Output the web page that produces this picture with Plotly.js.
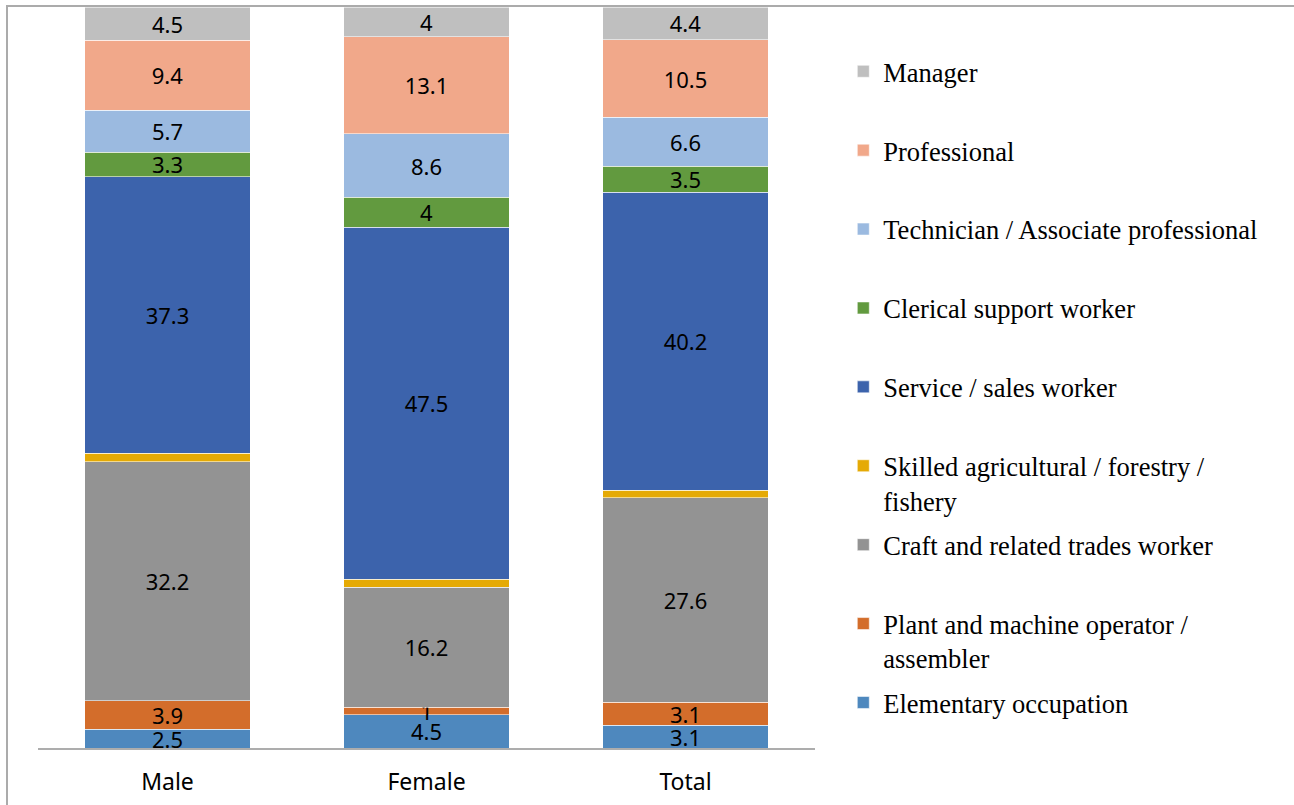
<!DOCTYPE html>
<html>
<head>
<meta charset="utf-8">
<script src="https://cdn.plot.ly/plotly-3.0.1.min.js"></script>
<style>
  html, body { margin: 0; padding: 0; background: #ffffff; }
  #chart { width: 1294px; height: 805px; }
</style>
</head>
<body>
<div id="chart"></div>
<script>
const categories = ['Male', 'Female', 'Total'];

const elementary   = [2.5, 4.5, 3.1];
const plant        = [3.9, 1.0, 3.1];
const craft        = [32.2, 16.2, 27.6];
const skilled      = [1.2, 1.1, 1.0];
const service      = [37.3, 47.5, 40.2];
const clerical     = [3.3, 4.0, 3.5];
const technician   = [5.7, 8.6, 6.6];
const professional = [9.4, 13.1, 10.5];
const manager      = [4.5, 4.0, 4.4];

const seriesNames = [
  'Elementary occupation',
  'Plant and machine operator /<br>assembler',
  'Craft and related trades worker',
  'Skilled agricultural / forestry /<br>fishery',
  'Service / sales worker',
  'Clerical support worker',
  'Technician / Associate professional',
  'Professional',
  'Manager'
];
const seriesValues = [elementary, plant, craft, skilled, service, clerical, technician, professional, manager];
const seriesColors = ['#4E88BE', '#D36D2B', '#939393', '#E5AA05', '#3C63AC', '#629A3F', '#9BBAE0', '#F1A88A', '#BFBFBF'];
const showLabel = [true, true, true, false, true, true, true, true, true];

const traces = seriesNames.map((name, i) => ({
  type: 'bar',
  name: name.indexOf('<br>') >= 0 ? name : name + '<br>&nbsp;',
  x: categories,
  y: seriesValues[i],
  text: seriesValues[i].map(v => String(v)),
  textposition: showLabel[i] ? 'inside' : 'none',
  insidetextanchor: 'middle',
  textangle: 0,
  textfont: { family: 'Noto Sans, Open Sans, sans-serif', size: 22, color: '#000000' },
  marker: { color: seriesColors[i], line: { color: 'rgba(255,255,255,0.55)', width: 1 } },
  legendgroup: 'g' + i,
  legendrank: 100 - i,
  hoverinfo: 'x+y+name'
}));

const layout = {
  width: 1294,
  height: 805,
  margin: { l: 38, r: 479, t: 7, b: 57 },
  paper_bgcolor: '#ffffff',
  plot_bgcolor: '#ffffff',
  barmode: 'stack',
  bargap: 0.36,
  showlegend: true,
  uniformtext: { mode: 'show', minsize: 22 },
  legend: {
    x: 1.0364, xanchor: 'left',
    y: 0.9453, yanchor: 'top',
    traceorder: 'grouped',
    tracegroupgap: 7,
    valign: 'top',
    font: { family: 'Liberation Serif, Times New Roman, serif', size: 26.5, color: '#000000' },
    bgcolor: 'rgba(0,0,0,0)',
    borderwidth: 0
  },
  xaxis: {
    type: 'category',
    showline: true,
    linecolor: '#ADADAD',
    linewidth: 2,
    showgrid: false,
    zeroline: false,
    ticks: 'outside',
    ticklen: 12,
    tickcolor: 'rgba(0,0,0,0)',
    tickfont: { family: 'Noto Sans, Open Sans, sans-serif', size: 23, color: '#000000' }
  },
  yaxis: {
    range: [0, 100],
    visible: false,
    showgrid: false,
    zeroline: false
  },
  shapes: [{
    type: 'rect', xref: 'paper', yref: 'paper',
    x0: (7 - 38) / 777, x1: (1310 - 38) / 777,
    y0: (748 - 820) / 741, y1: 1 + (7 - 6) / 741,
    line: { color: '#ABABAB', width: 2 },
    fillcolor: 'rgba(0,0,0,0)',
    layer: 'below'
  }]
};

Plotly.newPlot('chart', traces, layout, { displayModeBar: false, staticPlot: true });
</script>
</body>
</html>
